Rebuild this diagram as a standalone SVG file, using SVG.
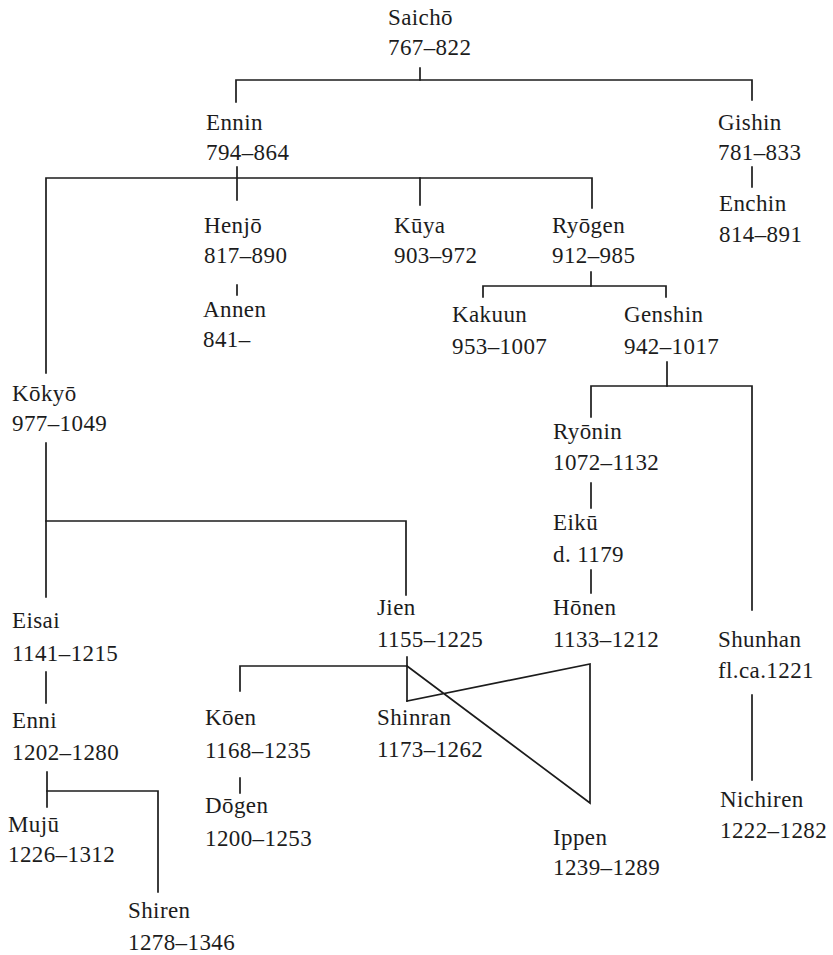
<svg xmlns="http://www.w3.org/2000/svg" width="833" height="955" viewBox="0 0 833 955">
<style>
text{font-family:"Liberation Serif","DejaVu Serif","Times New Roman",serif;font-size:23px;fill:#1c1c1c;letter-spacing:0.4px}
.c line,.c polyline{stroke:#1c1c1c;stroke-width:1.7;fill:none;stroke-linecap:square}
</style>
<rect width="833" height="955" fill="#ffffff"/>
<g class="c" id="connectors">
<line x1="420" y1="68" x2="420" y2="80"/>
<polyline points="236,102 236,80 752,80 752,100"/>
<line x1="237" y1="167" x2="237" y2="200"/>
<polyline points="46,373 46,178 592,178 592,208"/>
<line x1="420" y1="178" x2="420" y2="205"/>
<line x1="752" y1="167" x2="752" y2="187"/>
<line x1="237" y1="285" x2="237" y2="295"/>
<line x1="591" y1="272" x2="591" y2="286"/>
<polyline points="483,297 483,286 666,286 666,297"/>
<line x1="667" y1="362" x2="667" y2="386"/>
<polyline points="591,417 591,386 752,386 752,610"/>
<line x1="591" y1="483" x2="591" y2="508"/>
<line x1="591" y1="570" x2="591" y2="593"/>
<line x1="46" y1="443" x2="46" y2="597"/>
<polyline points="46,521 406,521 406,595"/>
<line x1="46" y1="672" x2="46" y2="703"/>
<line x1="407" y1="657" x2="407" y2="701"/>
<polyline points="240,691 240,666 407,666"/>
<polyline points="407,701 590,664 590,803 407,666"/>
<line x1="240" y1="778" x2="240" y2="793"/>
<line x1="752" y1="695" x2="752" y2="780"/>
<line x1="47" y1="772" x2="47" y2="807"/>
<polyline points="47,791 158,791 158,892"/>
</g>
<g id="saicho"><text x="388" y="25">Saichō</text><text x="388" y="55">767–822</text></g>
<g id="ennin"><text x="206" y="130">Ennin</text><text x="206" y="160">794–864</text></g>
<g id="gishin"><text x="718" y="130">Gishin</text><text x="718" y="160">781–833</text></g>
<g id="enchin"><text x="719" y="211">Enchin</text><text x="719" y="242">814–891</text></g>
<g id="henjo"><text x="204" y="233">Henjō</text><text x="204" y="263">817–890</text></g>
<g id="kuya"><text x="394" y="233">Kūya</text><text x="394" y="263">903–972</text></g>
<g id="ryogen"><text x="552" y="233">Ryōgen</text><text x="552" y="263">912–985</text></g>
<g id="annen"><text x="203" y="317">Annen</text><text x="203" y="347">841–</text></g>
<g id="kakuun"><text x="452" y="322">Kakuun</text><text x="452" y="354">953–1007</text></g>
<g id="genshin"><text x="624" y="322">Genshin</text><text x="624" y="354">942–1017</text></g>
<g id="kokyo"><text x="12" y="401">Kōkyō</text><text x="12" y="431">977–1049</text></g>
<g id="ryonin"><text x="553" y="439">Ryōnin</text><text x="553" y="470">1072–1132</text></g>
<g id="eiku"><text x="553" y="530">Eikū</text><text x="553" y="562">d. 1179</text></g>
<g id="eisai"><text x="12" y="628">Eisai</text><text x="12" y="661">1141–1215</text></g>
<g id="jien"><text x="377" y="615">Jien</text><text x="377" y="647">1155–1225</text></g>
<g id="honen"><text x="553" y="615">Hōnen</text><text x="553" y="647">1133–1212</text></g>
<g id="shunhan"><text x="718" y="647">Shunhan</text><text x="718" y="678">fl.ca.1221</text></g>
<g id="enni"><text x="12" y="728">Enni</text><text x="12" y="760">1202–1280</text></g>
<g id="koen"><text x="205" y="725">Kōen</text><text x="205" y="758">1168–1235</text></g>
<g id="shinran"><text x="377" y="725">Shinran</text><text x="377" y="757">1173–1262</text></g>
<g id="muju"><text x="8" y="832">Mujū</text><text x="8" y="862">1226–1312</text></g>
<g id="dogen"><text x="205" y="813">Dōgen</text><text x="205" y="846">1200–1253</text></g>
<g id="nichiren"><text x="720" y="807">Nichiren</text><text x="720" y="838">1222–1282</text></g>
<g id="ippen"><text x="553" y="845">Ippen</text><text x="553" y="875">1239–1289</text></g>
<g id="shiren"><text x="128" y="918">Shiren</text><text x="128" y="950">1278–1346</text></g>
</svg>
